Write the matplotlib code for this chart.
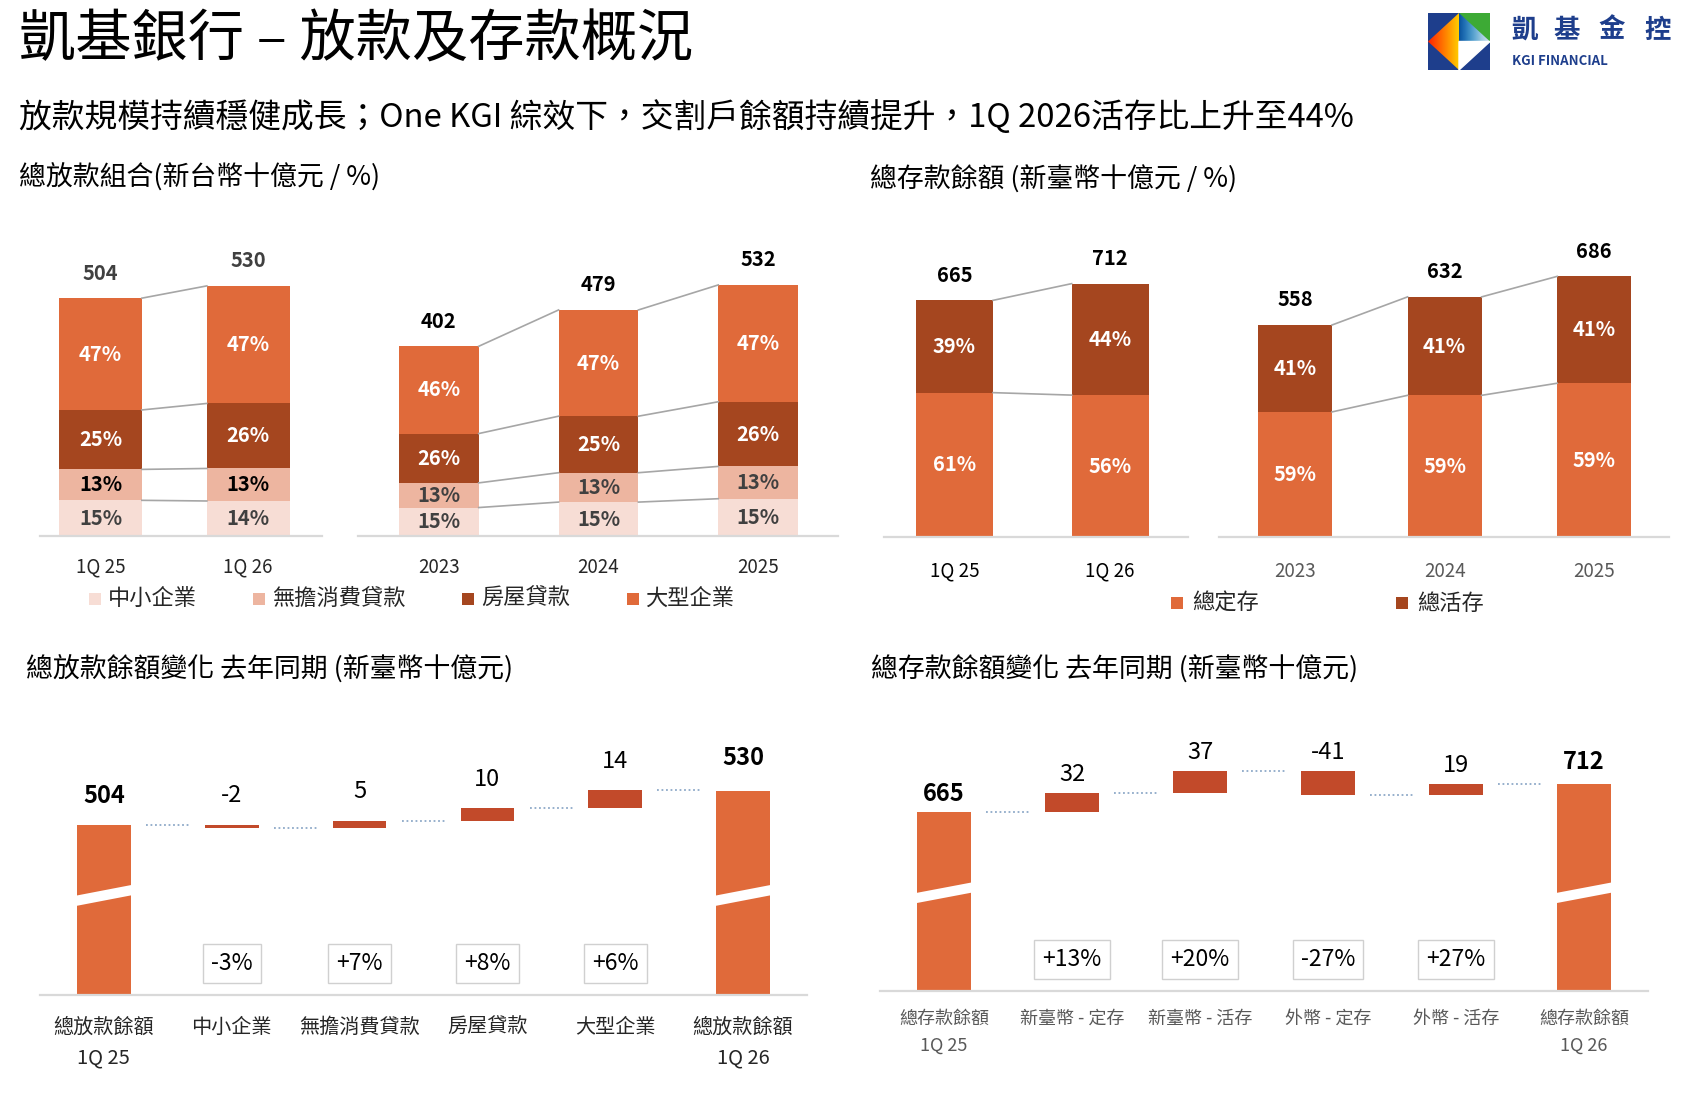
import numpy as np
import matplotlib
matplotlib.use('Agg')
import matplotlib.pyplot as plt
import matplotlib.transforms as mtransforms
from matplotlib.patches import Rectangle, Polygon

plt.rcParams['font.family'] = ['Noto Sans CJK TC', 'DejaVu Sans']

# ---- data ----
loan_series = ['中小企業', '無擔消費貸款', '房屋貸款', '大型企業']
loan_q_labels = ['1Q 25', '1Q 26']
loan_q_totals = [504, 530]
loan_q_sme = [15, 14]
loan_q_consumer = [13, 13]
loan_q_mortgage = [25, 26]
loan_q_corporate = [47, 47]

loan_y_labels = ['2023', '2024', '2025']
loan_y_totals = [402, 479, 532]
loan_y_sme = [15, 15, 15]
loan_y_consumer = [13, 13, 13]
loan_y_mortgage = [26, 25, 26]
loan_y_corporate = [46, 47, 47]

dep_series = ['總定存', '總活存']
dep_q_labels = ['1Q 25', '1Q 26']
dep_q_totals = [665, 712]
dep_q_time = [61, 56]
dep_q_demand = [39, 44]

dep_y_labels = ['2023', '2024', '2025']
dep_y_totals = [558, 632, 686]
dep_y_time = [59, 59, 59]
dep_y_demand = [41, 41, 41]

loan_wf_labels = ['總放款餘額\n1Q 25', '中小企業', '無擔消費貸款', '房屋貸款', '大型企業', '總放款餘額\n1Q 26']
loan_wf_start = 504
loan_wf_deltas = [-2, 5, 10, 14]
loan_wf_end = 530
loan_wf_pct = ['-3%', '+7%', '+8%', '+6%']

dep_wf_labels = ['總存款餘額\n1Q 25', '新臺幣 - 定存', '新臺幣 - 活存', '外幣 - 定存', '外幣 - 活存', '總存款餘額\n1Q 26']
dep_wf_start = 665
dep_wf_deltas = [32, 37, -41, 19]
dep_wf_end = 712
dep_wf_pct = ['+13%', '+20%', '-27%', '+27%']

# ---- colours ----
C_SME = '#F7DDD5'
C_CONS = '#EDB5A0'
C_MORT = '#A5461F'
C_CORP = '#E06A3A'
C_FLOAT = '#C24A2A'
C_AXIS = '#D9D9D9'
C_CONN = '#A6A6A6'
NAVY = '#1E3E8C'

W, H = 1694, 1094
fig = plt.figure(figsize=(W / 100, H / 100), dpi=100)


def fx(x):
    return x / W


def fy(y):
    return 1 - y / H


def add_ax(x0, x1, y0, y1):
    ax = fig.add_axes([x0 / W, 1 - y1 / H, (x1 - x0) / W, (y1 - y0) / H])
    for s in ['top', 'left', 'right']:
        ax.spines[s].set_visible(False)
    ax.spines['bottom'].set_color(C_AXIS)
    ax.spines['bottom'].set_linewidth(1.6)
    ax.set_yticks([])
    ax.patch.set_alpha(0)
    return ax


def stacked(ax, labels, totals, shares, colors, lab_colors, width, xlim, ylim,
            total_color, tick_color, pad):
    x = np.arange(len(labels))
    shares = np.array(shares, dtype=float)
    heights = shares / shares.sum(axis=0) * np.array(totals)
    tops = np.cumsum(heights, axis=0)
    bottoms = tops - heights
    for i in range(len(shares)):
        ax.bar(x, heights[i], width, bottom=bottoms[i], color=colors[i], linewidth=0)
        for j in range(len(x)):
            ax.text(x[j], bottoms[i][j] + heights[i][j] / 2, f'{int(shares[i][j])}%',
                    ha='center', va='center', fontsize=14.5, fontweight='bold',
                    color=lab_colors[i])
    for i in range(len(shares)):
        for j in range(len(x) - 1):
            ax.plot([x[j] + width / 2, x[j + 1] - width / 2], [tops[i][j], tops[i][j + 1]],
                    color=C_CONN, lw=1.2)
    for j in range(len(x)):
        ax.annotate(str(totals[j]), (x[j], totals[j]), xytext=(0, 18),
                    textcoords='offset points', ha='center', va='center',
                    fontsize=14.5, fontweight='bold', color=total_color)
    ax.set_xlim(*xlim)
    ax.set_ylim(*ylim)
    ax.set_xticks(x, labels)
    ax.tick_params(axis='x', length=0, pad=pad, labelsize=13.5, labelcolor=tick_color)


def waterfall(ax, labels, start, deltas, end, pcts, base, top, lab_off, tick_size,
              tick_color, line1_y, line2_y, box_y):
    n = len(deltas)
    x = np.arange(n + 2)
    w = 0.42
    cum = start + np.concatenate([[0], np.cumsum(deltas)])
    ax.bar([0, n + 1], [start - base, end - base], w, bottom=base, color=C_CORP, linewidth=0)
    ax.bar(x[1:n + 1], deltas, w, bottom=cum[:-1], color=C_FLOAT, linewidth=0)
    # dotted connectors
    for k in range(n + 1):
        ax.plot([x[k] + w / 2 + 0.12, x[k + 1] - w / 2 - 0.12], [cum[k], cum[k]],
                color='#8EA9C8', lw=1.3, ls=(0, (1, 1.5)))
    # value labels
    ax.annotate(str(start), (0, start), xytext=(0, lab_off), textcoords='offset points',
                ha='center', va='center', fontsize=17, fontweight='bold')
    ax.annotate(str(end), (n + 1, end), xytext=(0, lab_off + 3), textcoords='offset points',
                ha='center', va='center', fontsize=17, fontweight='bold')
    tr = mtransforms.blended_transform_factory(ax.transData, ax.transAxes)
    for k in range(n):
        ax.annotate(str(deltas[k]), (x[k + 1], max(cum[k], cum[k + 1])), xytext=(0, lab_off),
                    textcoords='offset points', ha='center', va='center', fontsize=17)
        ax.text(x[k + 1], box_y, pcts[k], transform=tr, ha='center', va='center',
                fontsize=16.5,
                bbox=dict(boxstyle='square,pad=0.35', fc='white', ec='#D0D0D0', lw=1))
    # axis break marks on the total bars
    for xb in [0, n + 1]:
        xl, xr = xb - w / 2 - 0.03, xb + w / 2 + 0.03
        ax.add_patch(Polygon([(xl, 0.30), (xr, 0.34), (xr, 0.375), (xl, 0.335)],
                             closed=True, transform=tr, fc='white', ec='none', zorder=5))
    ax.set_xlim(-0.5, n + 1.5)
    ax.set_ylim(base, top)
    ax.set_xticks([])
    # category labels
    for k, lab in enumerate(labels):
        parts = lab.split('\n')
        ax.text(x[k], line1_y, parts[0], transform=tr, ha='center', va='center',
                fontsize=tick_size, color=tick_color)
        if len(parts) > 1:
            ax.text(x[k], line2_y, parts[1], transform=tr, ha='center', va='center',
                    fontsize=tick_size, color=tick_color)


# ---- titles ----
fig.text(fx(19), fy(41), '凱基銀行 – 放款及存款概況', fontsize=40.5, va='center', ha='left')
fig.text(fx(19), fy(117), '放款規模持續穩健成長；One KGI 綜效下，交割戶餘額持續提升，1Q 2026活存比上升至44%',
         fontsize=23.6, va='center', ha='left')
fig.text(fx(19), fy(178), '總放款組合(新台幣十億元 / %)', fontsize=19.4, va='center')
fig.text(fx(870), fy(180), '總存款餘額 (新臺幣十億元 / %)', fontsize=19.4, va='center')
fig.text(fx(26), fy(670), '總放款餘額變化 去年同期 (新臺幣十億元)', fontsize=19.4, va='center')
fig.text(fx(871), fy(670), '總存款餘額變化 去年同期 (新臺幣十億元)', fontsize=19.4, va='center')

# ---- logo ----
lax = fig.add_axes([fx(1428), fy(70), (1490 - 1428) / W, (70 - 13) / H])
lax.axis('off')
lax.add_patch(Rectangle((0, 0), 1, 1, color=NAVY, zorder=1))
lax.add_patch(Polygon([(0.5, 1), (1, 1), (1, 0.5)], color='#3DAA35', zorder=1))
grad = np.linspace(0, 1, 50).reshape(1, -1)
im = lax.imshow(grad, extent=(0, 0.5, 0, 1), cmap='autumn', aspect='auto',
                vmin=-0.2, vmax=1.3, interpolation='bilinear', zorder=2)
im.set_clip_path(Polygon([(0.5, 1), (0, 0.5), (0.5, 0)], transform=lax.transData))
im2 = lax.imshow(grad[:, ::-1], extent=(0.5, 1, 0.5, 1), cmap='Blues', aspect='auto',
                 vmin=-0.3, vmax=1.2, interpolation='bilinear', zorder=2)
im2.set_clip_path(Polygon([(0.5, 1), (1, 0.5), (0.5, 0.5)], transform=lax.transData))
lax.add_patch(Polygon([(0.5, 0.5), (1, 0.5), (0.5, 0)], color='white', zorder=3))
lax.set_xlim(0, 1)
lax.set_ylim(0, 1)
for ch, xc in zip('凱基金控', [1525, 1567, 1612, 1658]):
    fig.text(fx(xc), fy(30), ch, fontsize=19, color=NAVY, ha='center', va='center',
             fontweight='bold')
fig.text(fx(1512), fy(61), 'KGI FINANCIAL', fontsize=9.5, color=NAVY, ha='left',
         va='center', fontweight='bold')

# ---- top left: loan mix ----
loan_colors = [C_SME, C_CONS, C_MORT, C_CORP]
ax1 = add_ax(40, 322, 200, 536)
stacked(ax1, loan_q_labels, loan_q_totals,
        [loan_q_sme, loan_q_consumer, loan_q_mortgage, loan_q_corporate], loan_colors,
        ['#404040', 'black', 'white', 'white'], 0.56, (-0.41, 1.5), (0, 712),
        '#404040', '#262626', 15)
ax2 = add_ax(358, 838, 200, 536)
stacked(ax2, loan_y_labels, loan_y_totals,
        [loan_y_sme, loan_y_consumer, loan_y_mortgage, loan_y_corporate], loan_colors,
        ['#404040', '#404040', 'white', 'white'], 0.5, (-0.506, 2.5), (0, 712),
        'black', '#262626', 15)

for name, c, xs, xt in zip(loan_series, loan_colors, [89, 253, 462, 627], [108, 272, 481, 645]):
    fig.add_artist(Rectangle((fx(xs), fy(604.5)), 12 / W, 12 / H, transform=fig.transFigure,
                             color=c, lw=0))
    fig.text(fx(xt), fy(598.5), name, fontsize=16, va='center', ha='left', color='#262626')

# ---- top right: deposit mix ----
dep_colors = [C_CORP, C_MORT]
ax3 = add_ax(884, 1188, 200, 537)
stacked(ax3, dep_q_labels, dep_q_totals, [dep_q_time, dep_q_demand], dep_colors,
        ['white', 'white'], 0.495, (-0.453, 1.5), (0, 947), 'black', 'black', 17)
ax4 = add_ax(1219, 1669, 200, 537)
stacked(ax4, dep_y_labels, dep_y_totals, [dep_y_time, dep_y_demand], dep_colors,
        ['white', 'white'], 0.495, (-0.508, 2.5), (0, 887), 'black', '#595959', 17)

for name, c, xs, xt in zip(dep_series, dep_colors, [1171, 1396], [1192, 1417]):
    fig.add_artist(Rectangle((fx(xs), fy(609)), 12 / W, 12 / H, transform=fig.transFigure,
                             color=c, lw=0))
    fig.text(fx(xt), fy(603), name, fontsize=16, va='center', ha='left', color='#262626')

# ---- bottom left: loan waterfall ----
ax5 = add_ax(40, 807, 700, 995)
waterfall(ax5, loan_wf_labels, loan_wf_start, loan_wf_deltas, loan_wf_end, loan_wf_pct,
          372, 601, 21, 14.5, '#262626', -0.11, -0.215, 0.107)

# ---- bottom right: deposit waterfall ----
ax6 = add_ax(880, 1648, 700, 991)
waterfall(ax6, dep_wf_labels, dep_wf_start, dep_wf_deltas, dep_wf_end, dep_wf_pct,
          367, 852, 13, 13, '#595959', -0.096, -0.189, 0.108)

fig.savefig('out.png', dpi=100, facecolor='white')
